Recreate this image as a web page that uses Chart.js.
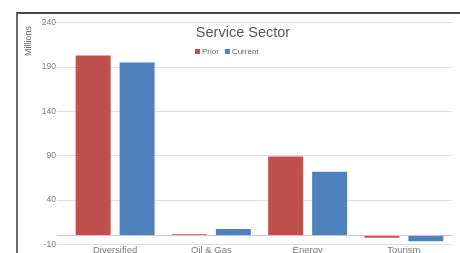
<!DOCTYPE html>
<html>
<head>
<meta charset="utf-8">
<script src="https://cdn.jsdelivr.net/npm/chart.js@4.4.0/dist/chart.umd.min.js"></script>
<style>
  html, body { margin: 0; padding: 0; background: #fff; overflow: hidden; }
  #wrap { position: relative; width: 460px; height: 253px; overflow: hidden; }
  #frame { position: absolute; left: 16px; top: 12px; width: 460px; height: 260px;
           border-top: 2px solid #4a4a4a; border-left: 2px solid #6a6a6a; box-sizing: border-box; }
  #c { position: absolute; left: 0; top: 0; }
</style>
</head>
<body>
<div id="wrap">
  <div id="frame"></div>
  <canvas id="c" width="460" height="262"></canvas>
</div>
<script>
// Service Sector, values in millions
const categories = ['Diversified', 'Oil & Gas', 'Energy', 'Tourism'];
const prior = [203, 1.5, 89, -2.5];
const current = [195, 7.5, 72, -6.5];
const yTicks = [-10, 40, 90, 140, 190, 240];

const chartTitle = 'Service Sector';
const axisTitle = 'Millions';

// title, legend and axis title sit inside the plot like Excel does
const overlay = {
    id: 'overlay',
    afterDraw(chart) {
        const g = chart.ctx;
        g.save();
        g.fillStyle = '#595959';
        g.font = '14.5px "Liberation Sans", Arial, sans-serif';
        g.textAlign = 'center';
        g.textBaseline = 'middle';
        g.fillText(chartTitle, 243, 33);

        g.font = '8px "Liberation Sans", Arial, sans-serif';
        g.textAlign = 'left';
        let x = 195;
        chart.data.datasets.forEach(ds => {
            g.fillStyle = ds.backgroundColor;
            g.fillRect(x, 49, 5, 5);
            g.fillStyle = '#6a6a6a';
            g.fillText(ds.label, x + 7, 52);
            x += 7 + g.measureText(ds.label).width + 6;
        });

        g.translate(29, 41);
        g.rotate(-Math.PI / 2);
        g.font = '9px "Liberation Sans", Arial, sans-serif';
        g.textAlign = 'center';
        g.fillStyle = '#6a6a6a';
        g.fillText(axisTitle, 0, 0);
        g.restore();
    }
};

new Chart(document.getElementById('c'), {
    type: 'bar',
    data: {
        labels: categories,
        datasets: [
            { label: 'Prior', data: prior, backgroundColor: '#c0504d' },
            { label: 'Current', data: current, backgroundColor: '#4f81bd' }
        ]
    },
    options: {
        responsive: false,
        animation: false,
        layout: { padding: { left: 0, right: 8, top: 22.7, bottom: 0 } },
        categoryPercentage: 0.914,
        barPercentage: 0.795,
        plugins: {
            legend: { display: false },
            title: { display: false },
            tooltip: { enabled: false }
        },
        scales: {
            x: {
                grid: { display: false, drawTicks: false, tickLength: 0 },
                border: { display: false },
                ticks: {
                    color: '#7a7a7a',
                    padding: 0,
                    font: { size: 9.5, family: '"Liberation Sans", Arial, sans-serif' }
                },
                afterFit(s) { s.height = 17.6; }
            },
            y: {
                min: -10,
                max: 240,
                afterBuildTicks(s) {
                    s.ticks = yTicks.concat([0]).sort((a, b) => a - b).map(v => ({ value: v }));
                },
                afterFit(s) { s.width = 67; },
                border: { display: false },
                grid: {
                    color: c => (c.tick && c.tick.value === 0) ? '#c8c8c8' : '#dedede',
                    tickLength: 10
                },
                ticks: {
                    color: '#7a7a7a',
                    padding: 1,
                    font: { size: 8.5, family: '"Liberation Sans", Arial, sans-serif' },
                    callback: v => (v === 0 ? '' : v)
                }
            }
        }
    },
    plugins: [overlay]
});
</script>
</body>
</html>
